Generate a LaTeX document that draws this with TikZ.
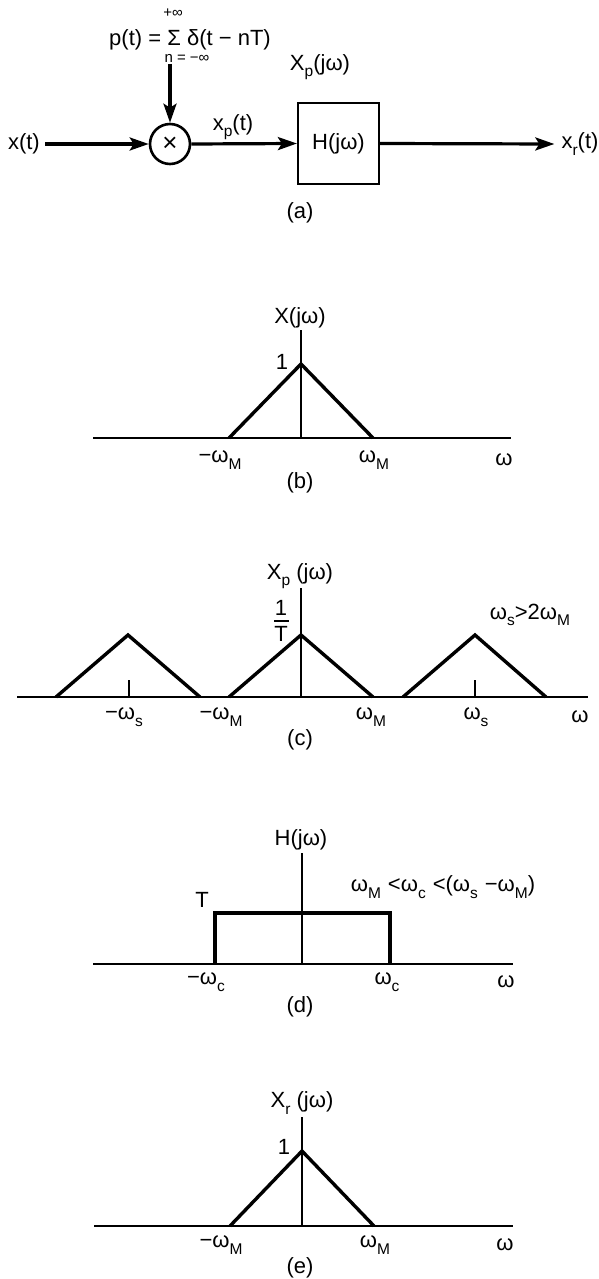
\documentclass[tikz,border=0pt]{standalone}
\usepackage{fontspec}
\setmainfont{Liberation Sans}
\usetikzlibrary{arrows.meta}
\newcommand{\sbx}[1]{\raisebox{-0.3em}{\fontsize{15.5}{15.5}\selectfont #1}}
\begin{document}
\begin{tikzpicture}[x=1pt,y=-1pt,
  txt/.style={inner sep=0pt, font=\fontsize{22}{24}\selectfont},
  small/.style={inner sep=0pt, font=\fontsize{15}{16}\selectfont},
  sig/.style={line width=3.2pt, -{Stealth[length=19pt,width=13pt,inset=4pt]}},
  plot/.style={line width=3.4pt, line join=miter},
  axis/.style={line width=1.2pt},
  base/.style={line width=1.4pt}]
\useasboundingbox (0,0) rectangle (598,1279);

% ---------------- (a) block diagram ----------------
\node[txt, anchor=east] (xt) at (40,144) {x(t)};
\node[circle, draw, line width=2.6pt, minimum size=40pt, inner sep=0pt, font=\fontsize{26}{26}\selectfont] (mul) at (170,144) {×};
\node[small] (ptop) at (173,13) {+∞};
\node[txt] (pmain) at (190,40) {p(t) = Σ δ(t − nT)};
\node[small] (pbot) at (187,58) {n = −∞};
\coordinate (pin) at (170,64);
\draw[sig] (pin) -- (mul.north);
\draw[sig] ([xshift=5pt]xt.east) -- (mul.west);
\node[draw, line width=2.2pt, minimum width=81pt, minimum height=81pt, txt] (H) at (338.5,143.5) {H(jω)};
\draw[sig] (mul.east) -- (H.west);
\node[txt] (xpl) at (233,127) {x\sbx{p}(t)};
\node[txt] (Xpl) at (320,67) {X\sbx{p}(jω)};
\node[txt] (xr) at (580,144) {x\sbx{r}(t)};
\draw[sig] (H.east) -- ([xshift=-7pt]xr.west);
\node[txt] (la) at (300,213) {(a)};

% ---------------- (b) ----------------
\draw[base] (93,438) -- (511,438);
\draw[axis] (301,330) -- (301,438);
\draw[plot] (229,438) -- (301,364) -- (373,438);
\node[txt] (Xb) at (300,318) {X(jω)};
\node[txt] (oneb) at (282,362) {1};
\node[txt] (mwMb) at (220,460) {−ω\sbx{M}};
\node[txt] (wMb) at (374,460) {ω\sbx{M}};
\node[txt] (wb) at (504,460) {ω};
\node[txt] (lb) at (300,483) {(b)};

% ---------------- (c) ----------------
\draw[base] (17,697) -- (588,697);
\draw[axis] (301,588) -- (301,697);
\draw[plot] (56,697) -- (128,635) -- (200,697);
\draw[plot] (229,697) -- (301,635) -- (373,697);
\draw[plot] (403,697) -- (475,635) -- (546,697);
\draw[axis] (129,697) -- (129,680);
\draw[axis] (475,697) -- (475,680);
\node[txt] (Xpc) at (300,576) {X\sbx{p} (jω)};
\node[txt] (onec) at (281,608) {1};
\node[txt] (Tc) at (281,634) {T};
\draw[line width=1.6pt] (274,621) -- (289,621);
\node[txt] (condc) at (530,615) {ω\sbx{s}>2ω\sbx{M}};
\node[txt] (mwsc) at (124,717) {−ω\sbx{s}};
\node[txt] (mwMc) at (221,717) {−ω\sbx{M}};
\node[txt] (wMc) at (371,717) {ω\sbx{M}};
\node[txt] (wsc) at (476,717) {ω\sbx{s}};
\node[txt] (wc) at (580,717) {ω};
\node[txt] (lc) at (300,740) {(c)};

% ---------------- (d) ----------------
\draw[base] (93,964) -- (513,964);
\draw[axis] (302,853) -- (302,964);
\draw[plot] (215,964) -- (215,913) -- (390,913) -- (390,964);
\node[txt] (Hd) at (301,840) {H(jω)};
\node[txt] (Td) at (202,900) {T};
\node[txt] (condd) at (443,887) {ω\sbx{M}\hspace{7pt}<ω\sbx{c}\hspace{7pt}<(ω\sbx{s}\hspace{7pt}−ω\sbx{M})};
\node[txt] (mwcd) at (206,982) {−ω\sbx{c}};
\node[txt] (wcd) at (387,982) {ω\sbx{c}};
\node[txt] (wd) at (506,982) {ω};
\node[txt] (ld) at (300,1007) {(d)};

% ---------------- (e) ----------------
\draw[base] (94,1226) -- (513,1226);
\draw[axis] (302,1117) -- (302,1226);
\draw[plot] (230,1226) -- (302,1151) -- (374,1226);
\node[txt] (Xre) at (302,1103) {X\sbx{r} (jω)};
\node[txt] (onee) at (284,1147) {1};
\node[txt] (mwMe) at (221,1245) {−ω\sbx{M}};
\node[txt] (wMe) at (375,1245) {ω\sbx{M}};
\node[txt] (we) at (505,1245) {ω};
\node[txt] (le) at (300,1268) {(e)};
\end{tikzpicture}
\end{document}
